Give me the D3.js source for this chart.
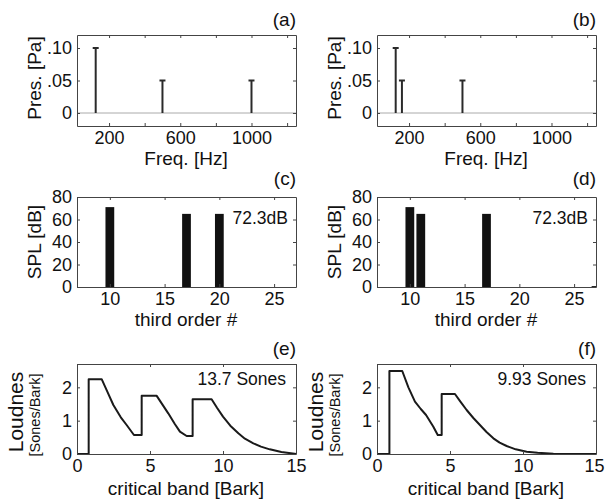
<!DOCTYPE html>
<html><head><meta charset="utf-8">
<script src="https://cdn.jsdelivr.net/npm/d3@7"></script>
<style>
html,body{margin:0;padding:0;background:#fff;}
svg text{font-family:"Liberation Sans",Arial,sans-serif;fill:#111;}
</style></head>
<body><svg id="c" width="605" height="503"></svg>
<script>
// ---- data ----
const freqA = [125, 500, 1000];
const presA = [0.10, 0.05, 0.05];
const freqB = [125, 160, 500];
const presB = [0.10, 0.05, 0.05];
const presTicks = [0, 0.05, 0.10];
const presTickLabels = ["0", ".05", ".10"];
const freqTicks = [200, 400, 600, 800, 1000, 1200];
const freqTickLabels = ["200", "", "600", "", "1000", ""];

const bandC = [10, 17, 20];
const splC = [71, 65, 65];
const bandD = [10, 11, 17, 27];
const splD = [71, 65, 65, 0.8];
const splTicks = [0, 20, 40, 60, 80];
const bandTicks = [10, 15, 20, 25];
const totalSPL = ["72.3dB", "72.3dB"];

const barkE = [0, 0.8, 0.8, 1.69, 2.1, 2.49, 3.0, 3.4, 3.9, 4.43, 4.43, 5.46, 5.9, 6.25, 6.7, 7.05, 7.51, 7.92, 7.92, 9.22, 9.6, 10.0, 10.5, 11.05, 11.5, 12.08, 12.6, 13.2, 14.0, 14.9, 15];
const sonesE = [0, 0, 2.245, 2.245, 1.85, 1.47, 1.1, 0.87, 0.57, 0.57, 1.745, 1.745, 1.45, 1.22, 0.9, 0.67, 0.54, 0.54, 1.64, 1.64, 1.38, 1.12, 0.85, 0.62, 0.46, 0.32, 0.22, 0.14, 0.06, 0.01, 0.0];
const barkF = [0, 0.85, 0.85, 1.73, 2.15, 2.6, 3.0, 3.36, 3.86, 4.16, 4.43, 4.43, 5.34, 5.7, 6.14, 6.6, 7.05, 7.5, 7.97, 8.4, 8.88, 9.5, 10.25, 11.0, 12.08, 13, 15];
const sonesF = [0, 0, 2.49, 2.49, 2.0, 1.57, 1.35, 1.17, 0.82, 0.57, 0.57, 1.80, 1.80, 1.58, 1.32, 1.08, 0.87, 0.66, 0.47, 0.34, 0.24, 0.14, 0.07, 0.035, 0.01, 0, 0];
const sonesTicks = [0, 1, 2];
const barkTicks = [0, 5, 10, 15];
const totalSones = ["13.7 Sones", "9.93 Sones"];
const panelLabels = ["(a)", "(b)", "(c)", "(d)", "(e)", "(f)"];

// ---- layout ----
const svg = d3.select("#c");
const colX = [77, 377];
const W = 219;
const BOX = "#444";

function frame(g, x, y, top, bottom, xTicks, xFmt, yTicks, yFmt) {
  const fs = "18px";
  const ax = g.append("g").attr("transform", `translate(0,${bottom})`)
    .call(d3.axisBottom(x).tickValues(xTicks).tickFormat(xFmt).tickSizeInner(-3).tickSizeOuter(0).tickPadding(5.5));
  const at = g.append("g").attr("transform", `translate(0,${top})`)
    .call(d3.axisTop(x).tickValues(xTicks).tickFormat("").tickSizeInner(-3).tickSizeOuter(0));
  const al = g.append("g").attr("transform", `translate(${x.range()[0]},0)`)
    .call(d3.axisLeft(y).tickValues(yTicks).tickFormat(yFmt).tickSizeInner(-3).tickSizeOuter(0).tickPadding(5));
  const ar = g.append("g").attr("transform", `translate(${x.range()[1]},0)`)
    .call(d3.axisRight(y).tickValues(yTicks).tickFormat("").tickSizeInner(-3).tickSizeOuter(0));
  [ax, at, al, ar].forEach(a => {
    a.attr("font-family", null).attr("font-size", null);
    a.selectAll("path.domain").attr("stroke", BOX).attr("stroke-width", 1);
    a.selectAll(".tick line").attr("stroke", BOX);
    a.selectAll(".tick text").style("font-size", fs).attr("fill", "#111");
  });
  return ax;
}

function panelLabel(g, x0, yBase, txt) {
  g.append("text").attr("x", x0 + W).attr("y", yBase).attr("text-anchor", "end")
    .style("font-size", "19px").text(txt);
}

function yLabel(g, cx, cy, txt, fs) {
  g.append("text").attr("transform", `translate(${cx},${cy}) rotate(-90)`)
    .attr("text-anchor", "middle").style("font-size", fs).text(txt);
}

// ---- row 1: pressure spectra ----
[[freqA, presA], [freqB, presB]].forEach((d, i) => {
  const x0 = colX[i];
  const top = 35, bottom = 126;
  const g = svg.append("g");
  const x = d3.scaleLinear().domain([20, 1250]).range([x0, x0 + W]);
  const y = d3.scaleLinear().domain([-0.02, 0.12]).range([bottom, top]);
  g.append("line").attr("x1", x0).attr("x2", x0 + W).attr("y1", y(0)).attr("y2", y(0))
    .attr("stroke", "#aaa").attr("stroke-width", 1);
  const pts = d[0].map((f, k) => ({f, p: d[1][k]}));
  g.selectAll("line.stem").data(pts).join("line").attr("class", "stem")
    .attr("x1", p => x(p.f)).attr("x2", p => x(p.f)).attr("y1", y(0)).attr("y2", p => y(p.p))
    .attr("stroke", "#2a2a2a").attr("stroke-width", 2);
  g.selectAll("line.cap").data(pts).join("line").attr("class", "cap")
    .attr("x1", p => x(p.f) - 3).attr("x2", p => x(p.f) + 3).attr("y1", p => y(p.p)).attr("y2", p => y(p.p))
    .attr("stroke", "#2a2a2a").attr("stroke-width", 2);
  frame(g, x, y, top, bottom, freqTicks, (v, k) => freqTickLabels[k], presTicks, (v, k) => presTickLabels[k]);
  panelLabel(g, x0, 26, panelLabels[i]);
  yLabel(g, x0 - 36, 78, "Pres. [Pa]", "19px");
  g.append("text").attr("x", x0 + 109).attr("y", 165).attr("text-anchor", "middle")
    .style("font-size", "19px").text("Freq. [Hz]");
});

// ---- row 2: SPL third-octave bars ----
[[bandC, splC], [bandD, splD]].forEach((d, i) => {
  const x0 = colX[i];
  const top = 197, bottom = 287;
  const g = svg.append("g");
  const x = d3.scaleLinear().domain([7, 27]).range([x0, x0 + W]);
  const y = d3.scaleLinear().domain([0, 80]).range([bottom, top]);
  const pts = d[0].map((b, k) => ({b, v: d[1][k]}));
  const bw = x(0.8) - x(0);
  g.selectAll("rect").data(pts).join("rect")
    .attr("x", p => x(p.b) - bw / 2).attr("width", p => Math.min(bw, x0 + W - (x(p.b) - bw / 2)))
    .attr("y", p => y(p.v)).attr("height", p => y(0) - y(p.v)).attr("fill", "#111");
  frame(g, x, y, top, bottom, bandTicks, d3.format("d"), splTicks, d3.format("d"));
  panelLabel(g, x0, 185, panelLabels[2 + i]);
  g.append("text").attr("x", x0 + W - 8).attr("y", 224).attr("text-anchor", "end")
    .style("font-size", "17.5px").text(totalSPL[i]);
  yLabel(g, x0 - 36, 242, "SPL [dB]", "19px");
  g.append("text").attr("x", x0 + 109).attr("y", 326).attr("text-anchor", "middle")
    .style("font-size", "19px").text("third order #");
});

// ---- row 3: specific loudness ----
[[barkE, sonesE], [barkF, sonesF]].forEach((d, i) => {
  const x0 = colX[i];
  const top = 364, bottom = 454;
  const g = svg.append("g");
  const x = d3.scaleLinear().domain([0, 15]).range([x0, x0 + W]);
  const y = d3.scaleLinear().domain([0, 2.7]).range([bottom, top]);
  const pts = d[0].map((b, k) => [b, d[1][k]]);
  g.append("path").datum(pts)
    .attr("d", d3.line().x(p => x(p[0])).y(p => y(p[1])))
    .attr("fill", "none").attr("stroke", "#1a1a1a").attr("stroke-width", 2).attr("stroke-linejoin", "round");
  const ax = frame(g, x, y, top, bottom, barkTicks, d3.format("d"), sonesTicks, d3.format("d"));
  if (i === 1) ax.selectAll(".tick text").filter(v => v === 15).attr("dx", -2);
  panelLabel(g, x0, 355, panelLabels[4 + i]);
  g.append("text").attr("x", x0 + W - 10).attr("y", 385).attr("text-anchor", "end")
    .style("font-size", "17.5px").text(totalSones[i]);
  yLabel(g, x0 - 54, 412, "Loudnes", "21px");
  yLabel(g, x0 - 37, 415, "[Sones/Bark]", "14.5px");
  g.append("text").attr("x", x0 + 109).attr("y", 495).attr("text-anchor", "middle")
    .style("font-size", "19px").text("critical band [Bark]");
});
</script></body></html>
